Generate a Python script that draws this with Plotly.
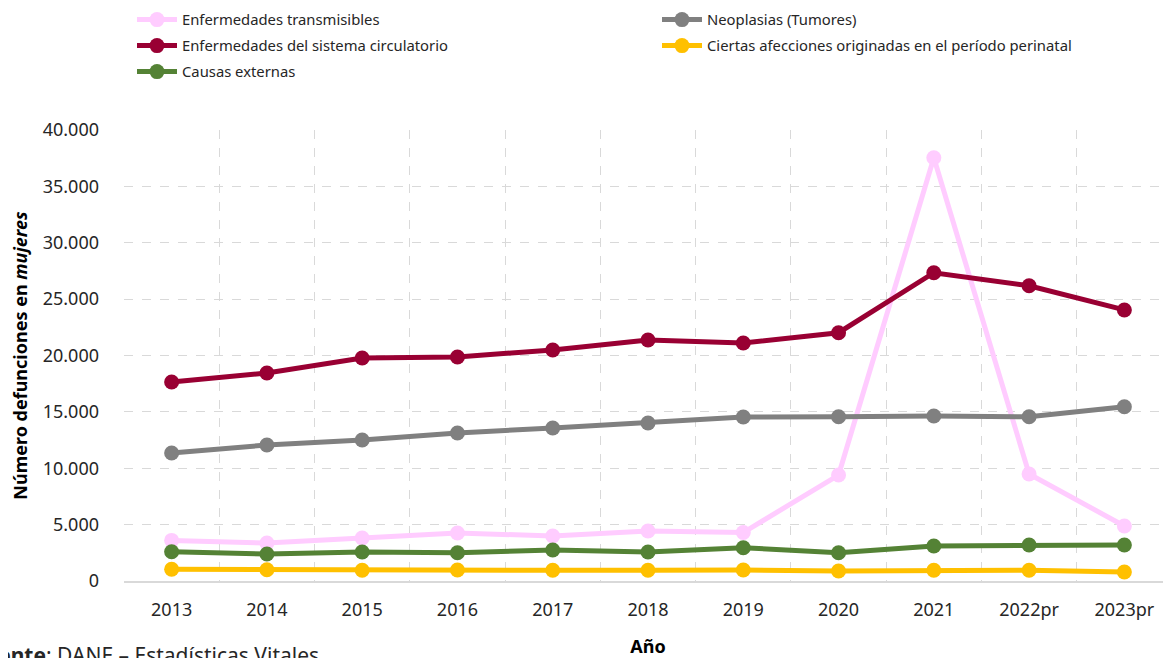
import plotly.graph_objects as go

years = ["2013", "2014", "2015", "2016", "2017", "2018", "2019", "2020", "2021", "2022pr", "2023pr"]
transmisibles = [3600, 3370, 3810, 4260, 3990, 4430, 4300, 9400, 37540, 9490, 4880]
circulatorio = [17650, 18450, 19780, 19870, 20490, 21370, 21110, 22020, 27340, 26190, 24040]
neoplasias = [11350, 12060, 12510, 13130, 13570, 14010, 14550, 14570, 14630, 14570, 15460]
perinatal = [1040, 1000, 950, 980, 950, 960, 980, 890, 950, 950, 800]
externas = [2600, 2390, 2570, 2510, 2750, 2570, 2950, 2510, 3100, 3190, 3190]

y_ticks = [0, 5000, 10000, 15000, 20000, 25000, 30000, 35000, 40000]

FONT = "Segoe UI, Noto Sans, Open Sans, sans-serif"
x = list(range(len(years)))

series = [
    ("Enfermedades transmisibles", transmisibles, "#FFCCFF", "legend", 1),
    ("Neoplasias (Tumores)", neoplasias, "#808080", "legend", 2),
    ("Enfermedades del sistema circulatorio", circulatorio, "#990033", "legend2", 3),
    ("Ciertas afecciones originadas en el período perinatal", perinatal, "#FFC000", "legend2", 4),
    ("Causas externas", externas, "#548235", "legend3", 5),
]

fig = go.Figure()
for name, vals, color, leg, rank in series:
    fig.add_trace(go.Scatter(
        x=x, y=vals, name=name, mode="lines+markers",
        line=dict(color=color, width=5),
        marker=dict(color=color, size=15),
        legend=leg, legendrank=rank,
    ))

# page body has an 8px margin: figure coords = window coords - 8
OFF = 8
W, H = 1171, 658
L = 124 - OFF
T = 130 - OFF
B = H - (581 - OFF)
pw = 1048
R = W - L - pw
ph = H - T - B


def ypx(py):
    return (H - B - (py - OFF)) / ph


def xpx(px):
    return ((px - OFF) - L) / pw


legend_common = dict(
    orientation="h", xanchor="left", yanchor="middle",
    font=dict(family=FONT, size=14.8, color="#262626"),
    entrywidth=470, entrywidthmode="pixels",
    bgcolor="rgba(0,0,0,0)", itemwidth=40,
)

fig.update_layout(
    width=W, height=H,
    margin=dict(l=L, r=R, t=T, b=B, autoexpand=False),
    paper_bgcolor="white", plot_bgcolor="white",
    separators=",.",
    font=dict(family=FONT, size=18, color="#262626"),
    legend=dict(x=xpx(132), y=ypx(20), **legend_common),
    legend2=dict(x=xpx(132), y=ypx(46), **legend_common),
    legend3=dict(x=xpx(132), y=ypx(72), **legend_common),
    xaxis=dict(
        range=[-0.5, 10.5], tickmode="array", tickvals=x, ticktext=years,
        showgrid=False, zeroline=False,
        showline=True, linecolor="#D9D9D9", linewidth=2,
        ticks="", ticklabelstandoff=11,
        tickfont=dict(family=FONT, size=18, color="#262626"),
        title=dict(text="<b>Año</b>", font=dict(family=FONT, size=18, color="#000000"), standoff=21),
        minor=dict(tickmode="array", tickvals=[i - 0.5 for i in range(12)],
                   showgrid=True, gridcolor="#D9D9D9", griddash="dash", gridwidth=1, ticks=""),
        automargin=False,
    ),
    yaxis=dict(
        range=[0, 40000], tickmode="array", tickvals=y_ticks, tickformat=",d",
        showgrid=True, gridcolor="#D9D9D9", griddash="dash", gridwidth=1,
        zeroline=False, showline=False, ticks="", ticklabelstandoff=24,
        tickfont=dict(family=FONT, size=18, color="#262626"),
        title=dict(text="<b>Número defunciones en <i>mujeres</i></b>",
                   font=dict(family=FONT, size=18, color="#000000"), standoff=16),
        automargin=False,
    ),
    annotations=[dict(
        text="<b>Fuente</b>: DANE – Estadísticas Vitales",
        xref="paper", yref="paper", x=xpx(321), y=ypx(655),
        xanchor="right", yanchor="middle", showarrow=False,
        font=dict(family=FONT, size=21, color="#262626"),
    )],
)

fig.write_html("out.html")
